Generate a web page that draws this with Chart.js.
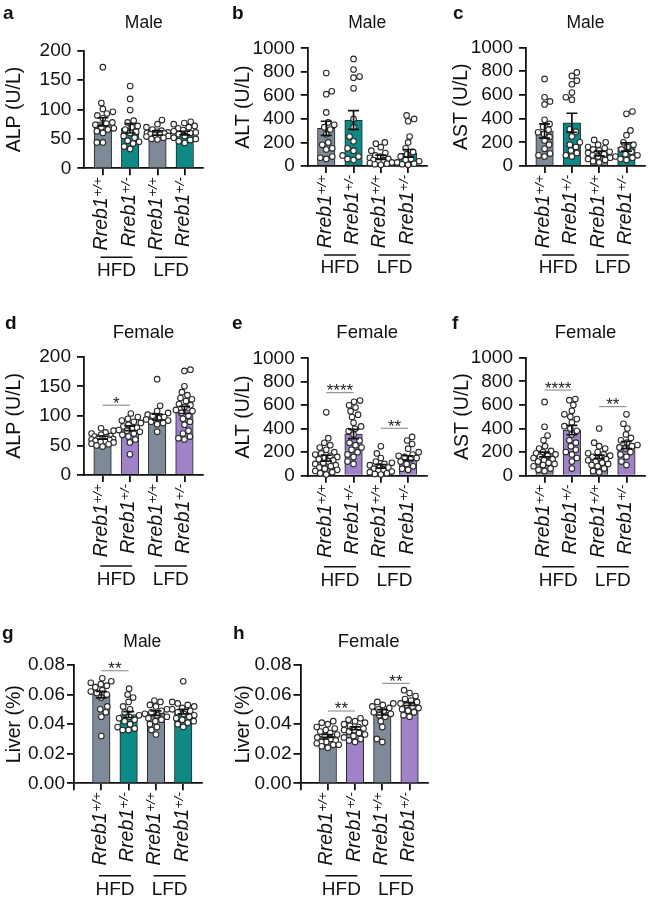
<!DOCTYPE html>
<html><head><meta charset="utf-8">
<script src="https://cdn.jsdelivr.net/npm/chart.js@4.4.1/dist/chart.umd.min.js"></script>
<style>
html,body{margin:0;padding:0;background:#fff;}
body{width:649px;height:900px;position:relative;overflow:hidden;}
canvas{position:absolute;}
</style></head>
<body>
<script>
// ---------------- DATA ----------------
const genotype = 'Rreb1';
const alleles = ['+/+', '+/-', '+/+', '+/-'];
const diets = ['HFD', 'LFD'];

// a  ALP male
const alpMaleMean = [79, 68, 60, 60];
const alpMaleSem = [7, 8, 3.5, 3];
const alpMaleDots = [
  [172, 111, 101, 96, 93, 90, 85, 78, 76, 74, 70, 68, 66, 63, 60, 44, 44],
  [140, 118, 99, 81, 78, 72, 70, 66, 62, 60, 55, 52, 47, 45, 42, 37, 33],
  [82, 75, 70, 66, 64, 62, 61, 60, 59, 58, 57, 56, 55, 54, 52, 50, 49],
  [79, 77, 75, 72, 70, 68, 65, 63, 61, 60, 58, 55, 52, 50, 48, 46, 43]
];
const alpMaleSig = [];

// b  ALT male
const altMaleMean = [320, 391, 74, 108];
const altMaleSem = [60, 80, 18, 32];
const altMaleDots = [
  [790, 635, 610, 455, 370, 350, 330, 310, 270, 200, 180, 150, 140, 80, 70, 60],
  [910, 820, 760, 750, 660, 400, 330, 250, 210, 150, 130, 90, 80, 60, 50],
  [200, 190, 160, 130, 110, 90, 80, 70, 60, 50, 45, 40, 30, 25, 20, 15, 10],
  [430, 400, 380, 250, 200, 150, 120, 100, 80, 60, 50, 40, 30, 20, 15, 10]
];
const altMaleSig = [];

// c  AST male
const astMaleMean = [295, 365, 105, 160];
const astMaleSem = [60, 80, 20, 35];
const astMaleDots = [
  [735, 580, 545, 520, 390, 355, 330, 305, 285, 270, 245, 215, 180, 145, 105, 90, 80],
  [790, 760, 720, 690, 620, 580, 560, 310, 290, 250, 200, 180, 160, 130, 110, 90, 80],
  [220, 200, 180, 160, 150, 140, 130, 120, 110, 100, 90, 80, 70, 60, 50, 40, 30],
  [460, 440, 300, 260, 200, 180, 160, 140, 120, 100, 90, 80, 70, 60, 50]
];
const astMaleSig = [];

// d  ALP female
const alpFemaleMean = [63, 79, 98, 110];
const alpFemaleSem = [2.5, 4, 5, 6];
const alpFemaleDots = [
  [79, 75, 72, 70, 68, 66, 65, 64, 63, 62, 61, 60, 59, 58, 57, 56, 55, 53, 52, 50, 48],
  [104, 98, 95, 92, 90, 88, 85, 82, 80, 78, 76, 75, 73, 70, 68, 65, 60, 55, 35],
  [162, 117, 108, 105, 102, 100, 98, 96, 94, 92, 90, 88, 86, 73],
  [178, 176, 150, 140, 135, 130, 128, 125, 120, 118, 115, 110, 108, 105, 100, 95, 90, 85, 75, 70, 65, 62, 60]
];
const alpFemaleSig = [{from: 0, to: 1, y: 118, text: '*'}];

// e  ALT female
const altFemaleMean = [150, 355, 80, 150];
const altFemaleSem = [25, 40, 15, 20];
const altFemaleDots = [
  [540, 320, 280, 260, 240, 220, 200, 190, 180, 170, 160, 150, 140, 130, 120, 110, 100, 90, 80, 70, 60, 50, 40, 30, 20, 10],
  [640, 630, 600, 580, 550, 520, 500, 450, 420, 400, 380, 350, 300, 280, 260, 240, 220, 200, 180, 160, 120, 100],
  [250, 190, 150, 120, 110, 100, 90, 80, 70, 60, 50, 40, 35, 30, 20, 15, 10],
  [330, 300, 270, 230, 200, 180, 170, 160, 150, 140, 120, 100, 80, 60, 50]
];
const altFemaleSig = [{from: 0, to: 1, y: 707, text: '****'}, {from: 2, to: 3, y: 404, text: '**'}];

// f  AST female
const astFemaleMean = [180, 387, 160, 260];
const astFemaleSem = [20, 40, 15, 30];
const astFemaleDots = [
  [625, 415, 340, 300, 250, 230, 210, 200, 190, 180, 170, 160, 150, 140, 130, 120, 110, 100, 90, 80, 60, 50, 40],
  [650, 640, 600, 550, 520, 500, 480, 450, 420, 400, 380, 350, 300, 280, 250, 220, 200, 180, 150, 120, 60],
  [400, 280, 250, 230, 200, 190, 180, 170, 160, 150, 140, 130, 120, 110, 100, 90, 80, 60, 40, 30],
  [520, 440, 400, 350, 320, 300, 280, 260, 250, 240, 230, 200, 180, 160, 120, 90]
];
const astFemaleSig = [{from: 0, to: 1, y: 726, text: '****'}, {from: 2, to: 3, y: 585, text: '**'}];

// g  Liver male
const liverMaleMean = [0.0600, 0.0465, 0.0475, 0.0485];
const liverMaleSem = [0.0022, 0.0020, 0.0015, 0.0015];
const liverMaleDots = [
  [0.071, 0.069, 0.068, 0.067, 0.066, 0.065, 0.063, 0.062, 0.061, 0.060, 0.058, 0.052, 0.050, 0.048, 0.045, 0.032],
  [0.064, 0.060, 0.058, 0.055, 0.052, 0.050, 0.048, 0.046, 0.045, 0.044, 0.043, 0.042, 0.040, 0.038, 0.037, 0.036, 0.036],
  [0.056, 0.055, 0.053, 0.052, 0.050, 0.049, 0.048, 0.047, 0.046, 0.045, 0.044, 0.043, 0.042, 0.040, 0.038, 0.036, 0.033],
  [0.069, 0.055, 0.054, 0.053, 0.052, 0.051, 0.050, 0.049, 0.048, 0.047, 0.046, 0.045, 0.044, 0.043, 0.042, 0.041, 0.040, 0.038]
];
const liverMaleSig = [{from: 0, to: 1, y: 0.0761, text: '**'}];

// h  Liver female
const liverFemaleMean = [0.0320, 0.0372, 0.0480, 0.0536];
const liverFemaleSem = [0.0010, 0.0010, 0.0018, 0.0010];
const liverFemaleDots = [
  [0.042, 0.041, 0.040, 0.038, 0.037, 0.036, 0.035, 0.034, 0.033, 0.032, 0.031, 0.030, 0.029, 0.028, 0.028, 0.027, 0.026, 0.026, 0.025, 0.024],
  [0.044, 0.043, 0.042, 0.041, 0.040, 0.039, 0.038, 0.037, 0.036, 0.036, 0.035, 0.034, 0.033, 0.032, 0.031, 0.030, 0.029, 0.028],
  [0.055, 0.054, 0.053, 0.052, 0.051, 0.050, 0.049, 0.048, 0.047, 0.046, 0.045, 0.042, 0.038, 0.030, 0.028],
  [0.063, 0.061, 0.059, 0.057, 0.056, 0.055, 0.054, 0.053, 0.052, 0.051, 0.050, 0.049, 0.048, 0.046, 0.045]
];
const liverFemaleSig = [{from: 0, to: 1, y: 0.0489, text: '**'}, {from: 2, to: 3, y: 0.0676, text: '**'}];

// ---------------- STYLE / LAYOUT ----------------
const FAM = '"Liberation Sans", Arial, Helvetica, sans-serif';
const INK = '#111';
const GREY = '#7e8a98', TEAL = '#0d8a85', PURPLE = '#9f82c7';
const maleColors = [GREY, TEAL, GREY, TEAL];
const femaleColors = [GREY, PURPLE, GREY, PURPLE];

const panels = [
  {letter:'a', title:'Male', ylabel:'ALP (U/L)', mean:alpMaleMean, sem:alpMaleSem, dots:alpMaleDots, sig:alpMaleSig, colors:maleColors, yMax:200, step:50, dec:0,
   L:0, T:0, W:208, H:292, axisX:84.3, right:203.3, top:50.7, bottom:168.3, xMin:-0.68, titleY:23.5, lx:3, ly:18.5, ylabX:14.5, tickPad:6, brk:89, grpY:102},
  {letter:'b', title:'Male', ylabel:'ALT (U/L)', mean:altMaleMean, sem:altMaleSem, dots:altMaleDots, sig:altMaleSig, colors:maleColors, yMax:1000, step:200, dec:0,
   L:222, T:0, W:209, H:292, axisX:307.7, right:426.7, top:48.3, bottom:166, xMin:-0.68, titleY:23.5, lx:232, ly:18.5, ylabX:244, tickPad:6, brk:89, grpY:102},
  {letter:'c', title:'Male', ylabel:'AST (U/L)', mean:astMaleMean, sem:astMaleSem, dots:astMaleDots, sig:astMaleSig, colors:maleColors, yMax:1000, step:200, dec:0,
   L:440, T:0, W:209, H:292, axisX:526, right:645, top:47.5, bottom:166, xMin:-0.68, titleY:23.5, lx:453, ly:18.5, ylabX:462, tickPad:6, brk:89, grpY:102},
  {letter:'d', title:'Female', ylabel:'ALP (U/L)', mean:alpFemaleMean, sem:alpFemaleSem, dots:alpFemaleDots, sig:alpFemaleSig, colors:femaleColors, yMax:200, step:50, dec:0,
   L:0, T:292, W:208, H:303, axisX:84, right:203, top:356.7, bottom:475, xMin:-0.68, titleY:333, lx:5, ly:328.5, ylabX:15, tickPad:6, brk:91, grpY:105},
  {letter:'e', title:'Female', ylabel:'ALT (U/L)', mean:altFemaleMean, sem:altFemaleSem, dots:altFemaleDots, sig:altFemaleSig, colors:femaleColors, yMax:1000, step:200, dec:0,
   L:222, T:292, W:209, H:303, axisX:307.7, right:426.7, top:358.3, bottom:475.7, xMin:-0.68, titleY:333, lx:232, ly:328.5, ylabX:244, tickPad:6, brk:91, grpY:105},
  {letter:'f', title:'Female', ylabel:'AST (U/L)', mean:astFemaleMean, sem:astFemaleSem, dots:astFemaleDots, sig:astFemaleSig, colors:femaleColors, yMax:1000, step:200, dec:0,
   L:440, T:292, W:209, H:303, axisX:526, right:645, top:357.7, bottom:475.7, xMin:-0.68, titleY:333, lx:452, ly:328.5, ylabX:462.5, tickPad:6, brk:91, grpY:105},
  {letter:'g', title:'Male', ylabel:'Liver (%)', mean:liverMaleMean, sem:liverMaleSem, dots:liverMaleDots, sig:liverMaleSig, colors:maleColors, yMax:0.08, step:0.02, dec:2,
   L:0, T:598, W:206, H:302, axisX:74, right:201.8, top:665, bottom:783.3, xMin:-1, titleY:641.7, lx:2, ly:638.5, ylabX:15, tickPad:2, brk:92.5, grpY:106.5},
  {letter:'h', title:'Female', ylabel:'Liver (%)', mean:liverFemaleMean, sem:liverFemaleSem, dots:liverFemaleDots, sig:liverFemaleSig, colors:femaleColors, yMax:0.08, step:0.02, dec:2,
   L:222, T:598, W:210, H:302, axisX:300.5, right:428.3, top:665, bottom:783.3, xMin:-1, titleY:641.7, lx:233, ly:638.5, ylabX:244, tickPad:2, brk:92.5, grpY:106.5}
];
const X_MAX = 3.68;
const DOT_R = 2.8;

// simple beeswarm: horizontal offsets (px) so dots don't overlap
function swarm(vals, pxPerUnit, diam, maxOff) {
  const order = vals.map((v, i) => i).sort((a, b) => vals[a] - vals[b]);
  const placed = [];
  const out = new Array(vals.length).fill(0);
  order.forEach((i, n) => {
    const y = vals[i] * pxPerUnit;
    const sgn = n % 2 ? -1 : 1;
    const cands = [0];
    for (let s = 0.5; s <= maxOff; s += 0.5) cands.push(s * sgn, -s * sgn);
    let chosen = null, bestD = -1, bestDx = 0;
    for (const dx of cands) {
      let minD = Infinity;
      for (const p of placed) {
        const d = Math.hypot(p.x - dx, p.y - y);
        if (d < minD) minD = d;
      }
      if (minD >= diam) { chosen = dx; break; }
      if (minD > bestD) { bestD = minD; bestDx = dx; }
    }
    if (chosen === null) chosen = bestDx;
    placed.push({x: chosen, y});
    out[i] = chosen;
  });
  return out;
}

const figPlugin = {
  id: 'fig',
  afterDatasetsDraw(chart) {
    const p = chart.options.plugins.fig.panel;
    const {ctx} = chart;
    const xs = chart.scales.x, ys = chart.scales.y;
    ctx.save();
    ctx.strokeStyle = INK;
    ctx.lineWidth = 1.7;
    p.mean.forEach((m, i) => {
      const x = xs.getPixelForValue(i);
      const yt = ys.getPixelForValue(m + p.sem[i]);
      const yb = ys.getPixelForValue(m - p.sem[i]);
      ctx.beginPath();
      ctx.moveTo(x, yt); ctx.lineTo(x, yb);
      ctx.moveTo(x - 5.5, yt); ctx.lineTo(x + 5.5, yt);
      ctx.moveTo(x - 5.5, yb); ctx.lineTo(x + 5.5, yb);
      ctx.stroke();
    });
    ctx.restore();
  },
  afterDraw(chart) {
    const p = chart.options.plugins.fig.panel;
    const {ctx} = chart;
    const xs = chart.scales.x, ys = chart.scales.y;
    const y0 = ys.getPixelForValue(0);
    ctx.save();
    ctx.fillStyle = INK;
    // panel letter
    ctx.font = `bold 19px ${FAM}`;
    ctx.textAlign = 'left'; ctx.textBaseline = 'alphabetic';
    ctx.fillText(p.letter, p.lx - p.L, p.ly - p.T);
    // title
    ctx.font = `${p.title === 'Male' ? 17.5 : 18.5}px ${FAM}`;
    ctx.textAlign = 'center'; ctx.textBaseline = 'middle';
    ctx.fillText(p.title, xs.getPixelForValue(1.5), p.titleY - p.T);
    // x labels
    alleles.forEach((al, i) => {
      const cx = xs.getPixelForValue(i);
      ctx.save();
      ctx.translate(cx, y0 + 9);
      ctx.rotate(-Math.PI / 2);
      ctx.textAlign = 'right'; ctx.textBaseline = 'alphabetic';
      ctx.font = `italic 13.5px ${FAM}`;
      const supW = ctx.measureText(al).width;
      ctx.fillText(al, 0, -0.5);
      ctx.font = `italic 19.5px ${FAM}`;
      ctx.fillText(genotype, -supW - 0.5, 4.5);
      ctx.restore();
    });
    // diet brackets
    ctx.strokeStyle = INK; ctx.lineWidth = 1.5;
    diets.forEach((d, g) => {
      const cx = xs.getPixelForValue(g * 2 + 0.5);
      ctx.beginPath();
      ctx.moveTo(cx - 16, y0 + p.brk); ctx.lineTo(cx + 16, y0 + p.brk);
      ctx.stroke();
      ctx.font = `19px ${FAM}`;
      ctx.textAlign = 'center'; ctx.textBaseline = 'middle';
      ctx.fillText(d, cx, y0 + p.grpY);
    });
    // significance
    p.sig.forEach(s => {
      const x1 = xs.getPixelForValue(s.from), x2 = xs.getPixelForValue(s.to);
      const yy = ys.getPixelForValue(s.y);
      ctx.strokeStyle = '#808080'; ctx.lineWidth = 1;
      ctx.beginPath(); ctx.moveTo(x1, yy); ctx.lineTo(x2, yy); ctx.stroke();
      ctx.fillStyle = '#222';
      ctx.font = `17px ${FAM}`;
      ctx.textAlign = 'center'; ctx.textBaseline = 'alphabetic';
      ctx.fillText(s.text, (x1 + x2) / 2, yy + 3.5);
    });
    ctx.restore();
  }
};

panels.forEach(p => {
  const cv = document.createElement('canvas');
  cv.width = p.W; cv.height = p.H;
  cv.style.left = p.L + 'px'; cv.style.top = p.T + 'px';
  cv.style.width = p.W + 'px'; cv.style.height = p.H + 'px';
  document.body.appendChild(cv);

  const pxPerUnit = (p.bottom - p.top) / p.yMax;
  const pxPerCat = (p.right - p.axisX) / (X_MAX - p.xMin);
  const scatter = [];
  p.dots.forEach((arr, i) => {
    const off = swarm(arr, pxPerUnit, 6.0, 11);
    arr.forEach((v, k) => scatter.push({x: i + off[k] / pxPerCat, y: v}));
  });
  const ylw = 19.5 * 1.2;

  new Chart(cv, {
    type: 'bar',
    data: {
      datasets: [
        {type: 'scatter', data: scatter, order: 0, clip: false,
         pointRadius: DOT_R, pointHoverRadius: DOT_R, pointBackgroundColor: '#fff',
         pointBorderColor: '#2a2a2a', pointBorderWidth: 1.1},
        {type: 'bar', data: p.mean.map((m, i) => ({x: i, y: m})), order: 1,
         backgroundColor: p.colors, borderColor: '#222', borderWidth: 1, barThickness: 17.5, borderSkipped: 'start'}
      ]
    },
    options: {
      responsive: false, animation: false, events: [],
      devicePixelRatio: 1,
      layout: {padding: {left: 0, top: p.top - p.T, right: p.L + p.W - p.right, bottom: p.T + p.H - p.bottom - 8}},
      plugins: {legend: {display: false}, tooltip: {enabled: false}, title: {display: false}, fig: {panel: p}},
      scales: {
        x: {type: 'linear', min: p.xMin, max: X_MAX, offset: false,
            afterFit: s => { s.height = 8; },
            grid: {display: true, offset: false, drawOnChartArea: false, drawTicks: true, tickLength: 7, color: INK, lineWidth: 1.8},
            border: {display: true, color: INK, width: 1.8},
            ticks: {display: false, stepSize: 1, includeBounds: false}},
        y: {type: 'linear', min: 0, max: p.yMax,
            afterFit: s => { s.width = p.axisX - p.L; },
            grid: {display: true, drawOnChartArea: false, drawTicks: true, tickLength: 7, color: INK, lineWidth: 1.8},
            border: {display: true, color: INK, width: 1.8},
            ticks: {stepSize: p.step, autoSkip: false, padding: p.tickPad, color: INK, font: {family: FAM, size: 19},
                    callback: v => p.dec ? Number(v).toFixed(p.dec) : String(Math.round(v))},
            title: {display: true, text: p.ylabel, color: INK, font: {family: FAM, size: 19.5},
                    padding: {top: p.ylabX - p.L - ylw / 2, bottom: 0}}}
      }
    },
    plugins: [figPlugin]
  });
});
</script>
</body></html>
